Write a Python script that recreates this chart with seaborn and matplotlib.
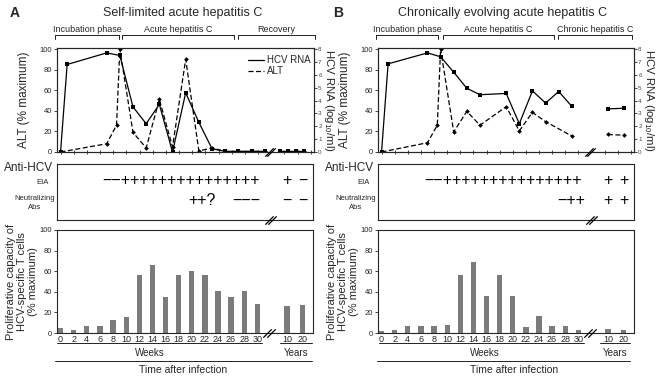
import matplotlib
matplotlib.use("Agg")
import matplotlib.pyplot as plt
import matplotlib.transforms as mtransforms
from matplotlib.lines import Line2D
import seaborn as sns

# -------------------- data --------------------
# upper panels: time in weeks after infection
a_rna_wk = [0, 1, 7, 9, 11, 13, 15, 17, 19, 21, 23, 25, 27, 29, 31]
a_rna = [0, 6.8, 7.7, 7.5, 3.5, 2.2, 3.7, 0, 4.6, 2.3, 0.25, 0.05, 0.05, 0.05, 0.05]
a_alt_wk = [0, 7, 8.5, 9, 11, 13, 15, 17, 19, 21, 23, 25, 27, 29, 31]
a_alt = [0, 8, 26, 100, 19, 4, 51, 5, 90, 1, 4, 0.5, 0.5, 0.5, 0.5]
a_late_yr = [5, 10, 15, 20]
a_late_rna = [0.05, 0.05, 0.05, 0.05]
a_late_alt = [0.5, 0.5, 0.5, 0.5]

b_rna_wk = [0, 1, 7, 9, 11, 13, 15, 19, 21, 23, 25, 27, 29]
b_rna = [0, 6.85, 7.7, 7.4, 6.2, 4.95, 4.45, 4.55, 2.2, 4.75, 3.8, 4.7, 3.55]
b_alt_wk = [0, 7, 8.5, 9, 11, 13, 15, 19, 21, 23, 25, 29]
b_alt = [0, 9, 26, 100, 19.5, 39.5, 26, 44, 20.5, 38.5, 29.5, 15.5]
b_late_yr = [10, 20]
b_late_rna = [3.35, 3.4]
b_late_alt = [17, 16.3]

# lower panels: proliferative capacity (% maximum)
weeks = [0, 2, 4, 6, 8, 10, 12, 14, 16, 18, 20, 22, 24, 26, 28, 30]
years = [10, 20]
a_prolif_wk = [4.5, 2.8, 6.5, 6.5, 13, 15.5, 56, 66, 35, 56, 60, 56, 40.5, 35, 40.5, 28]
a_prolif_yr = [26.5, 27]
b_prolif_wk = [2.3, 3.2, 6.8, 6.8, 6.8, 7.7, 56, 69, 36, 56, 36, 5.8, 16.8, 6.5, 7, 3]
b_prolif_yr = [4, 3.2]

# anti-HCV results (text runs)
a_eia_run, a_eia_yr = "−−+++++++++++++++", ["+", "−"]
a_nab_runs, a_nab_yr = ["++?", "−−−"], ["−", "−"]
b_eia_run, b_eia_yr = "−−+++++++++++++++", ["+", "+"]
b_nab_runs, b_nab_yr = ["−++"], ["+", "+"]

phases_a = ["Incubation phase", "Acute hepatitis C", "Recovery"]
phases_b = ["Incubation phase", "Acute hepatitis C", "Chronic hepatitis C"]
# ----------------------------------------------

W, H = 665, 382
XLIM = (-0.27, 19.24)          # bar position units (1 unit = 2 weeks)
BREAK = 15.9
BAR_C = "#7b7b7b"

sns.set_style("ticks")
plt.rcParams["font.family"] = ["Liberation Sans", "DejaVu Sans"]
plt.rcParams["mathtext.default"] = "regular"
plt.rcParams["axes.linewidth"] = 0.8


def px_box(x0, y0, x1, y1):
    return [x0 / W, 1 - y1 / H, (x1 - x0) / W, (y1 - y0) / H]


def yr_pos(y):
    # years after the axis break, in bar position units
    return 16.05 + 0.12 * y


def draw_break(ax, x, y=0.0):
    tr = mtransforms.blended_transform_factory(ax.transData, ax.transAxes)
    ax.plot([x - 0.13, x + 0.13], [y, y], ls="none", marker=[(-1, -1), (1, 1)],
            ms=6, mew=0.9, color="k", transform=tr, clip_on=False, zorder=5)


def fig_line(fig, x0, x1, y, ticks=False):
    fig.add_artist(Line2D([x0 / W, x1 / W], [1 - y / H, 1 - y / H], color="#222", lw=0.7))
    if ticks:
        for xx in (x0, x1):
            fig.add_artist(Line2D([xx / W, xx / W], [1 - y / H, 1 - (y + 4) / H],
                                  color="#222", lw=0.7))


def fig_text(fig, x, y, s, **kw):
    fig.text(x / W, 1 - y / H, s, **kw)


def draw_top(fig, x0, x1, rna_wk, rna, alt_wk, alt, late_rna_yr, late_rna,
             late_alt_yr, late_alt, legend):
    ax = fig.add_axes(px_box(x0, 48, x1, 152))
    axr = ax.twinx()
    lw = 0.9
    dash = (0, (4, 2))
    sns.lineplot(x=alt_wk, y=alt, ax=ax, color="k", lw=lw, linestyle=dash,
                 marker="D", ms=2.4, mew=0, estimator=None, sort=False)
    sns.lineplot(x=[2 * yr_pos(v) for v in late_alt_yr], y=late_alt, ax=ax, color="k",
                 lw=lw, linestyle=dash, marker="D", ms=2.4, mew=0,
                 estimator=None, sort=False)
    sns.lineplot(x=rna_wk, y=rna, ax=axr, color="k", lw=lw, marker="s", ms=3.4, mew=0,
                 estimator=None, sort=False)
    sns.lineplot(x=[2 * yr_pos(v) for v in late_rna_yr], y=late_rna, ax=axr, color="k",
                 lw=lw, marker="s", ms=3.4, mew=0, estimator=None, sort=False)
    for a in (ax, axr):
        a.set_xlim(2 * XLIM[0], 2 * XLIM[1])
    ax.set_ylim(0, 101)
    axr.set_ylim(0, 8.08)
    ax.set_xticks(list(range(0, 31, 2)) + [34, 36, 38])
    ax.tick_params(axis="x", direction="inout", length=3, width=0.6, labelbottom=False)
    ax.set_yticks(range(0, 101, 20))
    ax.tick_params(axis="y", length=2.5, width=0.6, labelsize=5.5, pad=1)
    axr.set_yticks(range(0, 9))
    axr.tick_params(axis="y", length=2, width=0.6, labelsize=4.5, pad=1,
                    labelcolor="#444")
    ax.set_ylabel("ALT (% maximum)", fontsize=8.5, va="center")
    ax.yaxis.set_label_coords(-0.128, 0.5)
    axr.set_ylabel("HCV RNA (log$_{10}$/ml)", fontsize=8.2, rotation=270)
    axr.yaxis.label.set_va("center")
    axr.yaxis.set_label_coords(1.058, 0.5)
    draw_break(axr, 2 * BREAK, 0)
    if legend:
        handles = [Line2D([], [], color="k", lw=lw),
                   Line2D([], [], color="k", lw=lw, linestyle=dash)]
        ax.legend(handles, ["HCV RNA", "ALT"], loc="upper left",
                  bbox_to_anchor=((248 - x0) / (x1 - x0), (152 - 55) / 104),
                  frameon=False, fontsize=7, handlelength=1.6, handletextpad=0.4,
                  labelspacing=0.15, borderpad=0, borderaxespad=0)
    return ax


def draw_mid(fig, x0, x1, eia_run, eia_left, eia_yr, nab_runs, nab_lefts, nab_yr):
    ax = fig.add_axes(px_box(x0, 164, x1, 220))
    ax.set_xlim(*XLIM)
    ax.set_ylim(0, 1)
    ax.set_xticks([])
    ax.set_yticks([])
    y_eia, y_nab = 0.71, 0.35
    kw = dict(fontsize=11.5, va="center", color="k")
    ax.text(eia_left, y_eia, eia_run, ha="left", **kw)
    for s, left in zip(nab_runs, nab_lefts):
        ax.text(left, y_nab, s, ha="left", **kw)
    for s, yv in zip(eia_yr, years):
        ax.text(yr_pos(yv), y_eia, s, ha="center", **kw)
    for s, yv in zip(nab_yr, years):
        ax.text(yr_pos(yv), y_nab, s, ha="center", **kw)
    draw_break(ax, BREAK + 0.1, 0)
    fig_text(fig, x0 - 4, 168, "Anti-HCV", ha="right", va="center", fontsize=8.5)
    fig_text(fig, x0 - 8, 182, "EIA", ha="right", va="center", fontsize=5.5)
    fig_text(fig, x0 - 22, 203, "Neutralizing\nAbs", ha="center", va="center",
             fontsize=5.5, multialignment="center", linespacing=1.3)
    return ax


def draw_bars(fig, x0, x1, wk_vals, yr_vals):
    ax = fig.add_axes(px_box(x0, 230, x1, 333))
    pos = [w / 2 for w in weeks] + [yr_pos(y) for y in years]
    vals = wk_vals + yr_vals
    sns.barplot(x=pos, y=vals, native_scale=True, color=BAR_C, saturation=1,
                width=0.4, errorbar=None, linewidth=0, ax=ax)
    ax.set_xlim(*XLIM)
    ax.set_ylim(0, 100)
    ax.set_xticks(pos)
    ax.set_xticklabels([str(w) for w in weeks] + [str(y) for y in years])
    ax.tick_params(axis="x", length=0, labelsize=6.5, pad=1.5)
    ax.set_yticks(range(0, 101, 20))
    ax.tick_params(axis="y", length=2.5, width=0.6, labelsize=5.5, pad=1)
    ax.set_ylabel("Proliferative capacity of\nHCV-specific T cells\n(% maximum)",
                  fontsize=8, linespacing=1.15, va="center")
    ax.yaxis.set_label_coords(-0.137, 0.5)
    draw_break(ax, BREAK, 0)
    return ax


fig = plt.figure(figsize=(6.65, 3.82), dpi=100)

# ---------------- panel A ----------------
draw_top(fig, 57, 314, a_rna_wk, a_rna, a_alt_wk, a_alt, a_late_yr, a_late_rna,
         a_late_yr, a_late_alt, legend=True)
draw_mid(fig, 57, 313, a_eia_run, 3.21, a_eia_yr, a_nab_runs, [9.73, 13.06], a_nab_yr)
draw_bars(fig, 57, 313, a_prolif_wk, a_prolif_yr)

# ---------------- panel B ----------------
draw_top(fig, 378, 634, b_rna_wk, b_rna, b_alt_wk, b_alt, b_late_yr, b_late_rna,
         b_late_yr, b_late_alt, legend=False)
draw_mid(fig, 378, 634, b_eia_run, 3.24, b_eia_yr, b_nab_runs, [13.39], b_nab_yr)
draw_bars(fig, 378, 634, b_prolif_wk, b_prolif_yr)

# titles
fig_text(fig, 10, 13, "A", fontsize=10, fontweight="bold", va="center")
fig_text(fig, 333, 13, "B", fontsize=10, fontweight="bold", va="center")
fig_text(fig, 183, 13, "Self-limited acute hepatitis C", fontsize=9, ha="center", va="center")
fig_text(fig, 503, 13, "Chronically evolving acute hepatitis C", fontsize=9,
         ha="center", va="center")

# phase brackets
for spans, names in (([(55, 119), (122, 234), (238, 315)], phases_a),
                     ([(376, 438), (443, 554), (558, 632)], phases_b)):
    for (xa, xb), name in zip(spans, names):
        fig_line(fig, xa, xb, 35, ticks=True)
        fig_text(fig, (xa + xb) / 2, 29, name, fontsize=6.5, ha="center", va="center")

# time axis annotation
for x0, wk_end, yr0, yr1, wk_c, t_c in ((57, 262, 280, 312, 150, 183),
                                         (379, 584, 600, 630, 485, 514)):
    fig_line(fig, x0, wk_end, 343)
    fig_line(fig, yr0, yr1, 343)
    fig_line(fig, x0 - 2, yr1, 361)
    fig_text(fig, wk_c, 353, "Weeks", fontsize=7, ha="center", va="center")
    fig_text(fig, (yr0 + yr1) / 2, 353, "Years", fontsize=7, ha="center", va="center")
    fig_text(fig, t_c, 370, "Time after infection", fontsize=7.5, ha="center", va="center")

fig.savefig("out.png", dpi=100)
